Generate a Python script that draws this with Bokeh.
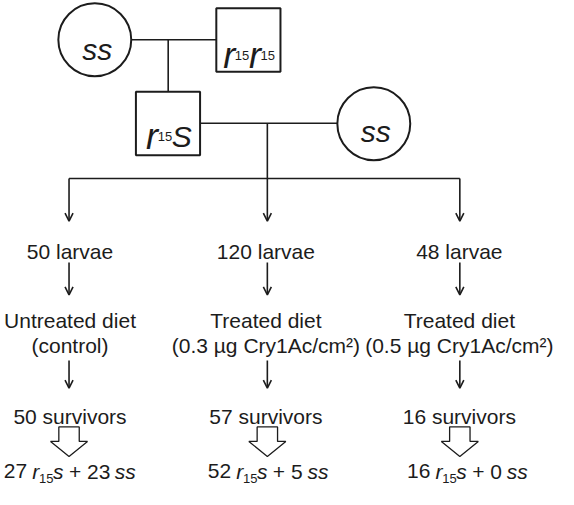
from bokeh.plotting import figure
from bokeh.models import Range1d, Arrow, OpenHead, ColumnDataSource
from bokeh.core.properties import value
from bokeh.embed import file_html
from bokeh.resources import INLINE

# ---- data ----
larvae = [50, 120, 48]
diet_line1 = ["Untreated diet", "Treated diet", "Treated diet"]
diet_line2 = ["(control)", "(0.3 \u00b5g Cry1Ac/cm\u00b2)", "(0.5 \u00b5g Cry1Ac/cm\u00b2)"]
survivors = [50, 57, 16]
rs_counts = [27, 52, 16]
ss_counts = [23, 5, 0]

# ---- layout (pixel coordinates of the reference) ----
col_x = [76.5, 280.5, 478.5]
text_x = [77.5, 279.0, 478.0]
result_x = [77.0, 281.0, 486.0]
FONT = value("Liberation Sans")
INK = "#1c1c1c"

p = figure(width=558, height=489, x_range=Range1d(6, 580), y_range=Range1d(510, 6),
           x_axis_type=None, y_axis_type=None, title=None,
           output_backend="svg", toolbar_location=None, min_border=0)
p.xgrid.visible = False
p.ygrid.visible = False
p.outline_line_color = None
p.background_fill_color = "white"
p.border_fill_color = "white"

W = {' ': 278, '(': 333, ')': 333, '+': 584, '.': 278, '/': 278, 'A': 667, 'C': 722,
     'S': 667, 'U': 722, 'T': 611, 'a': 556, 'c': 500, 'd': 556, 'e': 556, 'g': 556,
     'i': 222, 'l': 222, 'm': 833, 'n': 556, 'o': 556, 'r': 333, 's': 500, 't': 278,
     'u': 556, 'v': 500, 'y': 500}
for d in "0123456789":
    W[d] = 556


def width(s, size):
    return sum(W.get(ch, 556) for ch in s) * size / 1000.0


def rich(cx, base, pieces):
    total = sum(width(s, sz) for s, sz, st, dy in pieces)
    x = cx - total / 2.0
    for s, sz, st, dy in pieces:
        lead = len(s) - len(s.lstrip(" "))
        shown = s.strip(" ")
        p.text(x=[x + width(" " * lead, sz)], y=[base + dy], text=[shown], text_font=FONT,
               text_font_size=f"{sz}px", text_font_style=st, text_align="left",
               text_baseline="alphabetic", text_color=INK)
        x += width(s, sz)


# ---- pedigree ----
p.segment(x0=[140.5, 178.5, 211.3, 76.5], y0=[46.5, 46.5, 132.5, 189.5],
          x1=[227.7, 178.5, 352.3, 478.5], y1=[46.5, 100.0, 132.5, 189.5],
          line_color=INK, line_width=1.6)
p.circle(x=[103.0, 390.0], y=[46.5, 133.0], radius=37.5, fill_color="white",
         line_color=INK, line_width=2)
p.rect(x=[261.0, 178.3], y=[46.7, 132.8], width=66, height=65.5, fill_color="white",
       line_color=INK, line_width=2)

rich(105.0, 56.5, [("ss", 30, "italic", 0)])
rich(391.5, 141.0, [("ss", 30, "italic", 0)])
rich(261.5, 63.0, [("r", 36, "italic", 0), ("15", 13, "normal", 0),
                   ("r", 36, "italic", 0), ("15", 13, "normal", 0)])
rich(179.0, 146.5, [("r", 36, "italic", 0), ("15", 13, "normal", 0),
                    ("S", 30, "italic", 0)])

# ---- arrows ----
arr = ColumnDataSource(dict(
    x0=[col_x[0], 280.5, col_x[2]] + col_x + col_x,
    y0=[189.5, 132.5, 189.5] + [276.0] * 3 + [377.0] * 3,
    x1=[col_x[0], 280.5, col_x[2]] + col_x + col_x,
    y1=[233.5, 233.5, 233.5] + [309.5] * 3 + [405.5] * 3,
))
p.add_layout(Arrow(end=OpenHead(size=8, line_width=1.6, line_color=INK), source=arr,
                   x_start="x0", y_start="y0", x_end="x1", y_end="y1",
                   line_width=1.6, line_color=INK))

# hollow block arrows
xs, ys = [], []
for cx in col_x:
    xs.append([cx - 10.5, cx + 10.5, cx + 10.5, cx + 19, cx, cx - 19, cx - 10.5])
    ys.append([445.5, 445.5, 460.5, 460.5, 476.0, 460.5, 460.5])
p.patches(xs=xs, ys=ys, fill_color="white", line_color=INK, line_width=1.3)

# ---- text rows ----
p.text(x=text_x, y=[265.0] * 3, text=[f"{n} larvae" for n in larvae], text_font=FONT,
       text_font_size="21px", text_align="center", text_baseline="alphabetic", text_color=INK)
p.text(x=text_x, y=[335.5] * 3, text=diet_line1, text_font=FONT,
       text_font_size="21px", text_align="center", text_baseline="alphabetic", text_color=INK)
p.text(x=text_x, y=[361.5] * 3, text=diet_line2, text_font=FONT,
       text_font_size="21px", text_align="center", text_baseline="alphabetic", text_color=INK)
p.text(x=text_x, y=[435.0] * 3, text=[f"{n} survivors" for n in survivors], text_font=FONT,
       text_font_size="21px", text_align="center", text_baseline="alphabetic", text_color=INK)

for cx, a, b in zip(result_x, rs_counts, ss_counts):
    rich(cx, 491.0, [(f"{a} ", 21, "normal", 0), ("r", 21, "italic", 0),
                     ("15", 13, "normal", 7.5), ("s", 21, "italic", 0),
                     (f" + {b} ", 21, "normal", 0), ("ss", 21, "italic", 0)])

open("out.html", "w").write(file_html(p, INLINE))
